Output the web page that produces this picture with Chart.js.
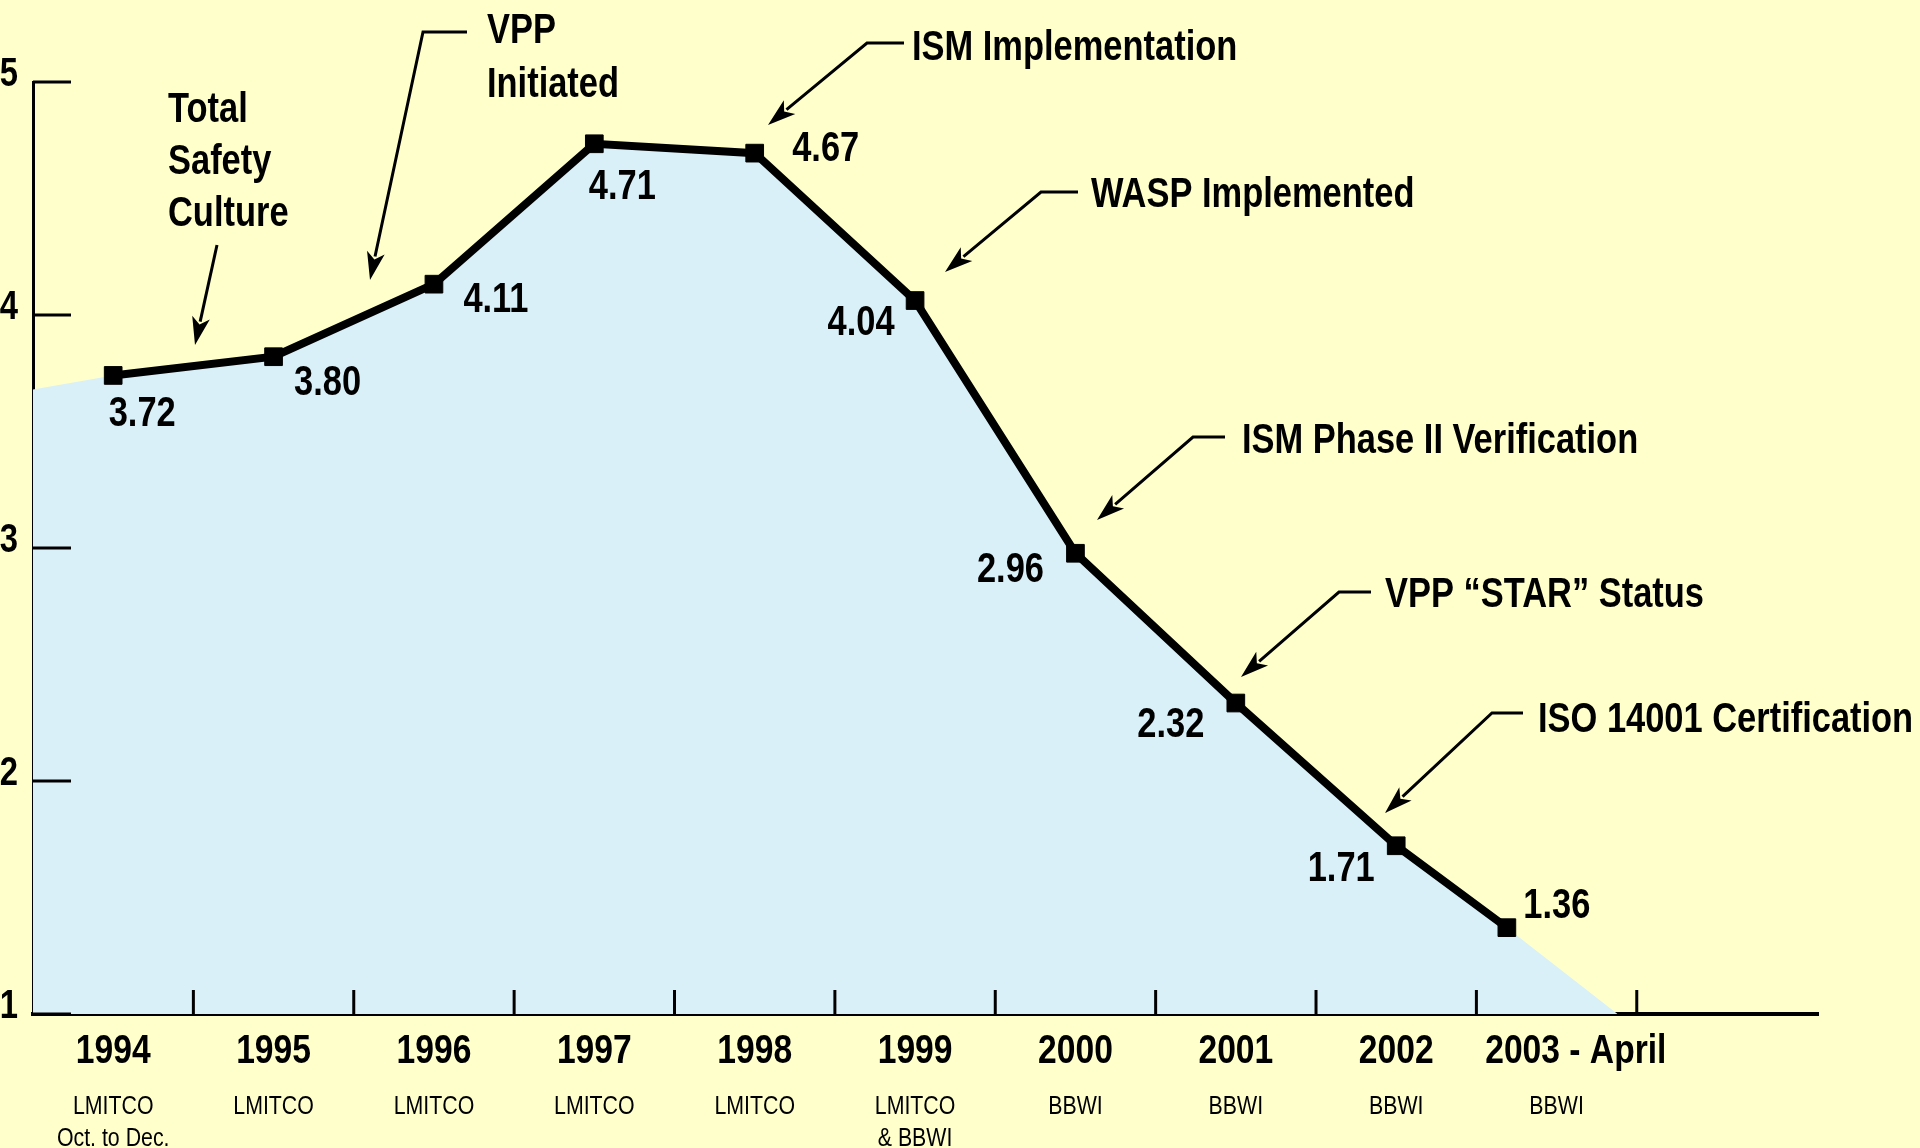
<!DOCTYPE html>
<html>
<head>
<meta charset="utf-8">
<script src="https://cdn.jsdelivr.net/npm/chart.js"></script>
<style>
  html, body { margin: 0; padding: 0; background: #FFFFCC; }
  #wrap { width: 1920px; height: 1148px; position: relative; }
</style>
</head>
<body>
<div id="wrap"><canvas id="chart"></canvas></div>
<script>
// 年度數據
const categories = ['1994', '1995', '1996', '1997', '1998', '1999', '2000', '2001', '2002', '2003 - April'];
const companies = [
    ['LMITCO', 'Oct. to Dec.'], ['LMITCO'], ['LMITCO'], ['LMITCO'], ['LMITCO'],
    ['LMITCO', '& BBWI'], ['BBWI'], ['BBWI'], ['BBWI'], ['BBWI']
];
const scores = [3.72, 3.80, 4.11, 4.71, 4.67, 4.04, 2.96, 2.32, 1.71, 1.36];
// 2003 only runs to April, so its point sits early in the year slot
const pointPositions = [0, 1, 2, 3, 4, 5, 6, 7, 8, 8.69];
const yTicks = [1, 2, 3, 4, 5];
// shaded area runs past the first/last point to the axes
const areaStart = { x: -0.5, y: 3.66 };
const areaEnd = { x: 9.38, y: 0.991 };

const annotations = [
    { lines: ['Total', 'Safety', 'Culture'], textX: 168, baseY: 122, lineGap: 52, path: [[217, 245], [195, 345]] },
    { lines: ['VPP', 'Initiated'], textX: 487, baseY: 43, lineGap: 54, path: [[467, 32], [423, 32], [370, 280]] },
    { lines: ['ISM Implementation'], textX: 912, baseY: 60, path: [[904, 43], [867, 43], [768, 125]] },
    { lines: ['WASP Implemented'], textX: 1091, baseY: 207, path: [[1078, 192], [1041, 192], [945, 272]] },
    { lines: ['ISM Phase II Verification'], textX: 1242, baseY: 453, path: [[1225, 437], [1193, 437], [1097, 520]] },
    { lines: ['VPP \u201cSTAR\u201d Status'], textX: 1385, baseY: 607, path: [[1371, 592], [1339, 592], [1241, 677]] },
    { lines: ['ISO 14001 Certification'], textX: 1538, baseY: 732, path: [[1523, 713], [1492, 713], [1385, 813]] }
];

// value label offsets from each marker (px)
const labelOffsets = [[29, 39], [54, 27], [62, 16], [28, 44], [71, -4], [-54, 23], [-65, 17], [-65, 22], [-55, 24], [50, -21]];

// 檢查窄體字型是否存在
function hasFont(name) {
    const c = document.createElement('canvas').getContext('2d');
    const s = 'ISM Phase II Verification 1994';
    c.font = 'bold 40px monospace';
    const a = c.measureText(s).width;
    c.font = 'bold 40px "' + name + '", monospace';
    return c.measureText(s).width !== a;
}
let FAMILY = '"Liberation Sans Narrow"';
let SX = 1;
if (!hasFont('Liberation Sans Narrow')) {
    FAMILY = '"Liberation Sans", Arial, sans-serif';
    SX = 0.82;
}

function drawText(ctx, text, x, y, size, weight, align, baseline) {
    ctx.save();
    ctx.translate(x, y);
    ctx.scale(SX, 1);
    ctx.font = weight + ' ' + size + 'px ' + FAMILY;
    ctx.fillStyle = '#000';
    ctx.textAlign = align;
    ctx.textBaseline = baseline || 'alphabetic';
    ctx.fillText(text, 0, 0);
    ctx.restore();
}

function drawArrow(ctx, path) {
    ctx.save();
    ctx.strokeStyle = '#000';
    ctx.fillStyle = '#000';
    ctx.lineWidth = 3;
    const tip = path[path.length - 1];
    const prev = path[path.length - 2];
    const ang = Math.atan2(tip[1] - prev[1], tip[0] - prev[0]);
    const headLen = 28, headW = 9;
    const bx = tip[0] - Math.cos(ang) * headLen;
    const by = tip[1] - Math.sin(ang) * headLen;
    ctx.beginPath();
    ctx.moveTo(path[0][0], path[0][1]);
    for (let i = 1; i < path.length - 1; i++) ctx.lineTo(path[i][0], path[i][1]);
    ctx.lineTo(bx + Math.cos(ang) * 4, by + Math.sin(ang) * 4);
    ctx.stroke();
    ctx.beginPath();
    ctx.moveTo(tip[0], tip[1]);
    ctx.lineTo(bx - Math.sin(ang) * headW, by + Math.cos(ang) * headW);
    ctx.lineTo(bx + Math.cos(ang) * 7, by + Math.sin(ang) * 7);
    ctx.lineTo(bx + Math.sin(ang) * headW, by - Math.cos(ang) * headW);
    ctx.closePath();
    ctx.fill();
    ctx.restore();
}

const decorPlugin = {
    id: 'decor',
    afterDraw(chart) {
        const ctx = chart.ctx;
        const xs = chart.scales.x;
        const ys = chart.scales.y;
        const ds = chart.scales.yData;
        const area = chart.chartArea;

        // y軸刻度
        ctx.save();
        ctx.strokeStyle = '#000';
        ctx.lineWidth = 3;
        yTicks.forEach(v => {
            const py = ys.getPixelForValue(v);
            ctx.beginPath();
            ctx.moveTo(area.left, py);
            ctx.lineTo(area.left + 38, py);
            ctx.stroke();
            drawText(ctx, String(v), area.left - 15, py - 7, 40, 'bold', 'right', 'middle');
        });
        // x軸刻度 (between categories)
        for (let i = 0; i < categories.length; i++) {
            const px = xs.getPixelForValue(i + 0.5);
            ctx.beginPath();
            ctx.moveTo(px, area.bottom);
            ctx.lineTo(px, area.bottom - 24);
            ctx.stroke();
        }
        ctx.restore();

        // x軸標籤
        categories.forEach((cat, i) => {
            const extra = cat.length > 4 ? 0.12 : 0;
            const px = xs.getPixelForValue(i + extra);
            drawText(ctx, cat, px, area.bottom + 49, 41, 'bold', 'center');
            const sub = xs.getPixelForValue(i);
            companies[i].forEach((line, j) => {
                drawText(ctx, line, sub, area.bottom + 100 + j * 32, 26, 'normal', 'center');
            });
        });

        // 數值標籤
        scores.forEach((v, i) => {
            const px = xs.getPixelForValue(pointPositions[i]);
            const py = ds.getPixelForValue(v);
            drawText(ctx, v.toFixed(2), px + labelOffsets[i][0], py + labelOffsets[i][1], 42, 'bold', 'center', 'middle');
        });

        // 事件註解
        annotations.forEach(a => {
            a.lines.forEach((line, j) => {
                drawText(ctx, line, a.textX, a.baseY + j * (a.lineGap || 0), 42, 'bold', 'left');
            });
            drawArrow(ctx, a.path);
        });
    }
};

const seriesPoints = scores.map((v, i) => ({ x: pointPositions[i], y: v }));
const areaPoints = [areaStart].concat(seriesPoints, [areaEnd]);

new Chart(document.getElementById('chart').getContext('2d'), {
    type: 'line',
    data: {
        datasets: [
            {
                data: seriesPoints,
                yAxisID: 'yData',
                borderColor: '#000',
                borderWidth: 8,
                pointStyle: 'rect',
                pointRadius: 12.5,
                pointBackgroundColor: '#000',
                pointBorderColor: '#000',
                pointBorderWidth: 1,
                fill: false,
                tension: 0,
                order: 0
            },
            {
                data: areaPoints,
                yAxisID: 'yData',
                borderWidth: 0,
                borderColor: 'rgba(0,0,0,0)',
                backgroundColor: '#D9F0F8',
                pointRadius: 0,
                fill: 'start',
                tension: 0,
                order: 1
            }
        ]
    },
    options: {
        responsive: true,
        maintainAspectRatio: false,
        animation: false,
        layout: { padding: { left: 33, top: 82, right: 102, bottom: 134 } },
        plugins: {
            legend: { display: false },
            tooltip: { enabled: false }
        },
        scales: {
            x: {
                type: 'linear',
                min: -0.5,
                max: 10.63,
                z: 1,
                ticks: { display: false },
                grid: { display: false, drawTicks: false, tickLength: 0 },
                border: { display: true, color: '#000', width: 4 }
            },
            y: {
                type: 'linear',
                min: 1,
                max: 5,
                z: 1,
                ticks: { display: false },
                grid: { display: false, drawTicks: false, tickLength: 0 },
                border: { display: true, color: '#000', width: 3 }
            },
            // the plotted line sits a few px above the printed tick marks in the original
            yData: {
                type: 'linear',
                display: false,
                min: 0.991,
                max: 4.974
            }
        }
    },
    plugins: [decorPlugin]
});
</script>
</body>
</html>
